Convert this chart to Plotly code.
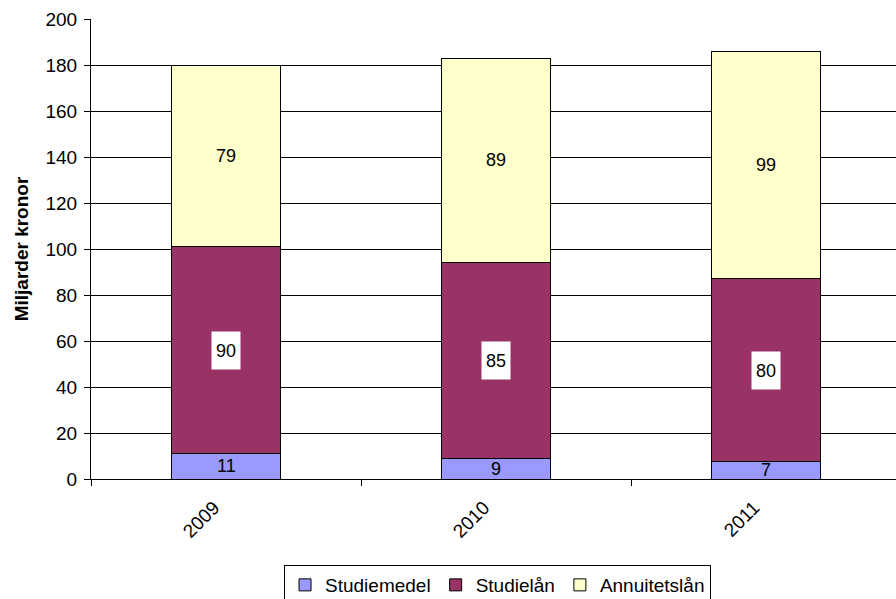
import plotly.graph_objects as go

years = ["2009", "2010", "2011"]
studiemedel = [10.9, 8.8, 7.4]
studielan = [90.0, 85.4, 79.7]
annuitetslan = [78.8, 88.6, 98.9]
series_names = ["Studiemedel", "Studielån", "Annuitetslån"]
colors = ["#9999FF", "#993366", "#FFFFCC"]
y_ticks = list(range(0, 201, 20))

FONT = "Liberation Sans, Arial, sans-serif"

fig = go.Figure()
for name, vals, col in zip(series_names, [studiemedel, studielan, annuitetslan], colors):
    fig.add_trace(go.Bar(
        x=years, y=vals, name=name,
        marker=dict(color=col, line=dict(color="#000000", width=1)),
    ))

annotations = []
base = [0.0] * len(years)
for si, vals in enumerate([studiemedel, studielan, annuitetslan]):
    for i, v in enumerate(vals):
        mid = base[i] + v / 2
        ann = dict(x=i, y=mid, xref="x", yref="y", text=str(round(v)),
                   showarrow=False, font=dict(family=FONT, size=18, color="#000000"))
        if si == 1:
            ann.update(bgcolor="#FFFFFF", width=24, height=33, borderpad=2)
        annotations.append(ann)
        base[i] += v

fig.update_layout(
    barmode="stack",
    bargap=0.593,
    width=896, height=599,
    margin=dict(l=91, r=0, t=19, b=120, autoexpand=False),
    paper_bgcolor="#FFFFFF", plot_bgcolor="#FFFFFF",
    font=dict(family=FONT, size=18, color="#000000"),
    annotations=annotations,
    legend=dict(orientation="h", x=0.505, xanchor="center", y=-0.187, yanchor="top",
                bordercolor="#000000", borderwidth=1, bgcolor="#FFFFFF",
                font=dict(family=FONT, size=19), itemwidth=30,
                traceorder="normal"),
    xaxis=dict(type="category", range=[-0.5, 2.4815], showline=True, linecolor="#000000", linewidth=1,
               ticks="outside", tickson="boundaries", ticklen=6, tickcolor="#000000",
               tickangle=-45, showgrid=False, tickfont=dict(family=FONT, size=19),
               ticklabelshift=-12, ticklabelstandoff=9),
    yaxis=dict(range=[0, 200], tickvals=y_ticks, showline=True, linecolor="#000000",
               linewidth=1, ticks="outside", ticklen=6, tickcolor="#000000",
               showgrid=True, gridcolor="#000000", gridwidth=1, zeroline=False,
               tickfont=dict(family=FONT, size=19), ticklabelstandoff=3,
               title=dict(text="<b>Miljarder kronor</b>", font=dict(family=FONT, size=19),
                          standoff=11)),
)

fig.write_html("out.html", config={"displayModeBar": False},
               post_script="document.body.style.margin='0px';document.body.style.overflow='hidden';")
